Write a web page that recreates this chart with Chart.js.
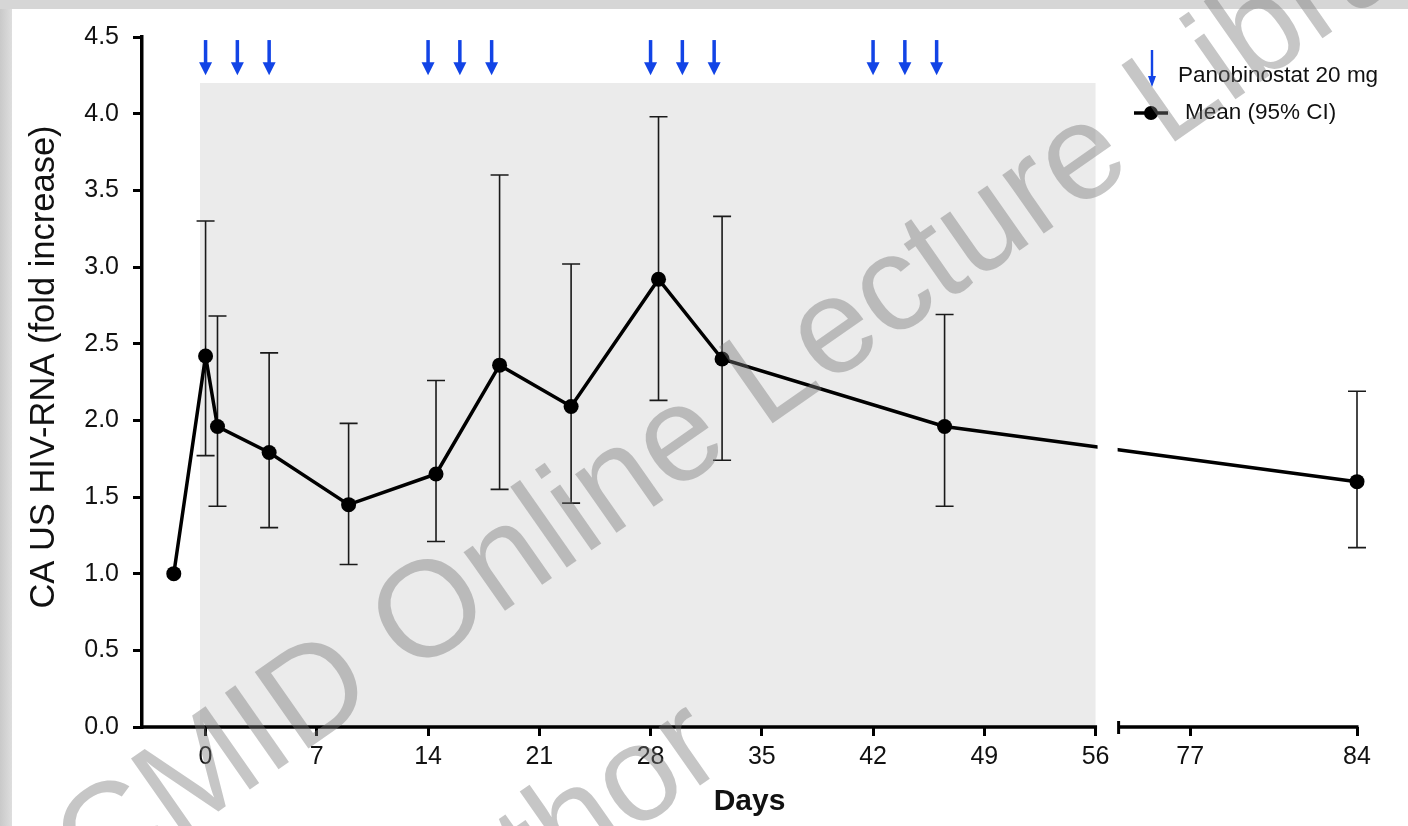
<!DOCTYPE html>
<html lang="en">
<head>
<meta charset="UTF-8">
<title>CA US HIV-RNA during panobinostat</title>
<script src="https://cdn.jsdelivr.net/npm/chart.js"></script>
<style>
  html, body { margin: 0; padding: 0; background: #fff; }
</style>
</head>
<body>
<canvas id="rnaChart" width="1408" height="826"></canvas>
<script>
// study days of each sample and the fold increase (mean with 95% CI)
const days    = [-2,   0,    0.75, 4,    9,    14.5, 18.5, 23,   28.5, 32.5, 46.5, 84];
const means   = [1.00, 2.42, 1.96, 1.79, 1.45, 1.65, 2.36, 2.09, 2.92, 2.40, 1.96, 1.60];
const lowerCI = [null, 1.77, 1.44, 1.30, 1.06, 1.21, 1.55, 1.46, 2.13, 1.74, 1.44, 1.17];
const upperCI = [null, 3.30, 2.68, 2.44, 1.98, 2.26, 3.60, 3.02, 3.98, 3.33, 2.69, 2.19];

// panobinostat 20 mg dosing days
const doseDays = [0, 2, 4, 14, 16, 18, 28, 30, 32, 42, 44, 46];

const xTickDays = [0, 7, 14, 21, 28, 35, 42, 49, 56, 77, 84];
const yTickValues = [0, 0.5, 1, 1.5, 2, 2.5, 3, 3.5, 4, 4.5];

// broken x axis: day 56 jumps to day 74, later days drawn wider
const BREAK_FROM = 56, BREAK_TO = 74, BREAK_GAP = 1.45, LATE_STRETCH = 1.5;
function xPos(day) {
    if (day <= BREAK_FROM) return day;
    return BREAK_FROM + BREAK_GAP + (day - BREAK_TO) * LATE_STRETCH;
}

const SHADE_FROM = -0.35, SHADE_TO = 56, SHADE_TOP = 4.2;
const FONT = '"Liberation Sans", Arial, Helvetica, sans-serif';
const DOSE_BLUE = '#1244e6';

function drawArrow(ctx, cx, yTop, yTip, shaftW, headW, headH) {
    ctx.fillStyle = DOSE_BLUE;
    ctx.fillRect(cx - shaftW / 2, yTop, shaftW, yTip - yTop - headH + 1);
    ctx.beginPath();
    ctx.moveTo(cx - headW / 2, yTip - headH);
    ctx.lineTo(cx + headW / 2, yTip - headH);
    ctx.lineTo(cx, yTip);
    ctx.closePath();
    ctx.fill();
}

const backdrop = {
    id: 'backdrop',
    beforeDraw(chart) {
        const {ctx, width, height, scales: {x, y}} = chart;
        ctx.save();
        ctx.fillStyle = '#fff';
        ctx.fillRect(0, 0, width, height);
        // slide edges
        const g = ctx.createLinearGradient(0, 0, 12, 0);
        g.addColorStop(0, '#c9c9c9');
        g.addColorStop(1, '#dedede');
        ctx.fillStyle = g;
        ctx.fillRect(0, 0, 12, height);
        ctx.fillStyle = '#d6d6d6';
        ctx.fillRect(0, 0, width, 9);
        // treatment period
        const l = x.getPixelForValue(xPos(SHADE_FROM));
        const r = x.getPixelForValue(xPos(SHADE_TO));
        const t = y.getPixelForValue(SHADE_TOP);
        const b = y.getPixelForValue(0);
        ctx.fillStyle = '#ebebeb';
        ctx.fillRect(l, t, r - l, b - t);
        ctx.restore();
    }
};

const errorBars = {
    id: 'errorBars',
    beforeDatasetsDraw(chart) {
        const {ctx, scales: {x, y}} = chart;
        ctx.save();
        ctx.strokeStyle = '#1a1a1a';
        ctx.lineWidth = 1.6;
        days.forEach((d, i) => {
            if (lowerCI[i] == null) return;
            const px = x.getPixelForValue(xPos(d));
            const lo = y.getPixelForValue(lowerCI[i]);
            const hi = y.getPixelForValue(upperCI[i]);
            ctx.beginPath();
            ctx.moveTo(px, lo); ctx.lineTo(px, hi);
            ctx.moveTo(px - 9, lo); ctx.lineTo(px + 9, lo);
            ctx.moveTo(px - 9, hi); ctx.lineTo(px + 9, hi);
            ctx.stroke();
        });
        ctx.restore();
    }
};

const axisBreak = {
    id: 'axisBreak',
    afterDatasetsDraw(chart) {
        const {ctx, chartArea, scales: {x}} = chart;
        const a = x.getPixelForValue(xPos(BREAK_FROM));
        const b = x.getPixelForValue(xPos(BREAK_TO));
        const base = chartArea.bottom;
        ctx.save();
        ctx.fillStyle = '#fff';
        ctx.fillRect(a + 2, chartArea.top, b - a - 3, base - chartArea.top - 3);
        ctx.strokeStyle = '#000';
        ctx.lineWidth = 3.5;
        ctx.beginPath();
        ctx.moveTo(chartArea.left, base); ctx.lineTo(a + 1.5, base);
        ctx.moveTo(b, base); ctx.lineTo(chartArea.right + 1.5, base);
        ctx.stroke();
        ctx.lineWidth = 3;
        ctx.beginPath();
        ctx.moveTo(b, base - 6); ctx.lineTo(b, base + 7);
        ctx.stroke();
        ctx.restore();
    }
};

const extras = {
    id: 'extras',
    afterDraw(chart) {
        const {ctx, scales: {x, y}} = chart;
        ctx.save();
        // dose arrows
        const top = y.getPixelForValue(4.48), tip = y.getPixelForValue(4.25);
        doseDays.forEach(d => drawArrow(ctx, x.getPixelForValue(xPos(d)), top, tip, 3.5, 13, 13));

        // y axis title
        ctx.save();
        ctx.translate(44, 367);
        ctx.rotate(-Math.PI / 2);
        ctx.fillStyle = '#111';
        ctx.font = '34.5px ' + FONT;
        ctx.textAlign = 'center';
        ctx.textBaseline = 'middle';
        ctx.fillText('CA US HIV-RNA (fold increase)', 0, 0);
        ctx.restore();

        // legend
        drawArrow(ctx, 1152, 50, 87, 2.4, 8, 11);
        ctx.fillStyle = '#111';
        ctx.font = '22.5px ' + FONT;
        ctx.textBaseline = 'middle';
        ctx.textAlign = 'left';
        ctx.fillText('Panobinostat 20 mg', 1178, 76);
        ctx.fillText('Mean (95% CI)', 1185, 113);
        ctx.strokeStyle = '#000';
        ctx.lineWidth = 3.5;
        ctx.beginPath(); ctx.moveTo(1134, 113); ctx.lineTo(1168, 113); ctx.stroke();
        ctx.fillStyle = '#000';
        ctx.beginPath(); ctx.arc(1151, 113, 7, 0, Math.PI * 2); ctx.fill();

        // watermark
        ctx.translate(705, 425);
        ctx.rotate(-35 * Math.PI / 180);
        ctx.fillStyle = 'rgba(120,120,120,0.42)';
        ctx.font = '136px ' + FONT;
        ctx.textAlign = 'center';
        ctx.fillText('ESCMID Online Lecture Library', 0, 0);
        ctx.textAlign = 'left';
        ctx.fillText('\u00A9 by author', -880, 255);
        ctx.restore();
    }
};

new Chart(document.getElementById('rnaChart'), {
    type: 'line',
    data: {
        datasets: [{
            label: 'Mean (95% CI)',
            data: days.map((d, i) => ({x: xPos(d), y: means[i]})),
            borderColor: '#000',
            backgroundColor: '#000',
            borderWidth: 3.5,
            pointRadius: 7.5,
            pointBorderWidth: 0,
            tension: 0,
            clip: false
        }]
    },
    options: {
        responsive: false,
        animation: false,
        layout: { padding: { left: 0, top: 37, right: 51, bottom: 0 } },
        plugins: { legend: { display: false }, tooltip: { enabled: false } },
        scales: {
            x: {
                type: 'linear',
                min: xPos(-4),
                max: xPos(84),
                afterBuildTicks: scale => { scale.ticks = xTickDays.map(d => ({value: xPos(d)})); },
                afterFit: scale => { scale.height = 99; },
                ticks: {
                    callback: (v, i) => String(xTickDays[i]),
                    color: '#111',
                    font: { family: FONT, size: 25 },
                    padding: 6,
                    maxRotation: 0,
                    autoSkip: false
                },
                grid: { drawOnChartArea: false, color: '#000', lineWidth: 3, tickLength: 9 },
                border: { display: false },
                title: {
                    display: true,
                    text: 'Days',
                    color: '#111',
                    font: { family: FONT, size: 30, weight: 'bold' },
                    padding: { top: 0, bottom: 6 }
                }
            },
            y: {
                min: 0,
                max: 4.5,
                afterBuildTicks: scale => { scale.ticks = yTickValues.map(v => ({value: v})); },
                afterFit: scale => { scale.width = 142; },
                ticks: {
                    callback: v => v.toFixed(1),
                    color: '#111',
                    font: { family: FONT, size: 25 },
                    padding: 14
                },
                grid: { drawOnChartArea: false, color: '#000', lineWidth: 3, tickLength: 9 },
                border: { display: true, color: '#000', width: 3.5 }
            }
        }
    },
    plugins: [backdrop, errorBars, axisBreak, extras]
});
</script>
</body>
</html>
